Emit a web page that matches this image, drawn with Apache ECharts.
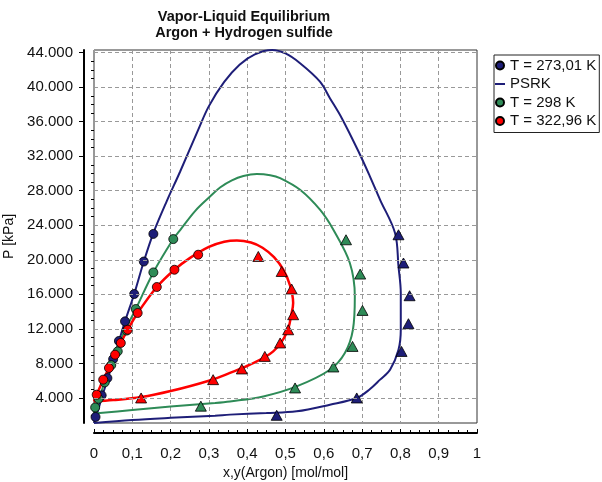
<!DOCTYPE html>
<html>
<head>
<meta charset="utf-8">
<script src="https://cdn.jsdelivr.net/npm/echarts@6/dist/echarts.min.js"></script>
<style>
html, body { margin: 0; padding: 0; background: #fff; }
#chart { width: 602px; height: 482px; }
</style>
</head>
<body>
<div id="chart"></div>
<script>
// [x,y(Argon), P kPa]
const liq273 = [[0.004, 1800], [0.02, 4300], [0.035, 6300], [0.05, 8500], [0.065, 10600], [0.081, 12870], [0.105, 16040], [0.13, 19800], [0.155, 23000]];
const vap273 = [[0.477, 1990], [0.686, 4000], [0.803, 9390], [0.821, 12600], [0.824, 15840], [0.808, 19630], [0.795, 22900]];
const liq298 = [[0.003, 2900], [0.012, 3900], [0.028, 5800], [0.045, 7800], [0.062, 9400], [0.085, 11800], [0.109, 14300], [0.155, 18540], [0.207, 22400]];
const vap298 = [[0.279, 3050], [0.525, 5160], [0.625, 7590], [0.675, 9970], [0.701, 14140], [0.695, 18350], [0.658, 22320]];
const liq323 = [[0.007, 4380], [0.024, 6120], [0.039, 7470], [0.055, 9010], [0.07, 10370], [0.088, 11900], [0.114, 13840], [0.164, 16850], [0.21, 18850], [0.272, 20590]];
const vap323 = [[0.123, 4000], [0.311, 6120], [0.386, 7360], [0.446, 8815], [0.486, 10370], [0.507, 11900], [0.52, 13640], [0.516, 16620], [0.49, 18650], [0.429, 20390]];

// PSRK envelopes
const psrk273 = [[0, 1100], [0.007, 2000], [0.02, 4000], [0.04, 6800], [0.06, 9800], [0.081, 12870], [0.105, 16040], [0.13, 19800],
  [0.155, 23100], [0.19, 26800], [0.225, 30230], [0.272, 35050], [0.3, 37800], [0.34, 40600], [0.38, 42600], [0.42, 43800], [0.465, 44300],
  [0.5, 43900], [0.538, 42770], [0.59, 40640], [0.616, 38720], [0.647, 36400], [0.69, 32600], [0.72, 29700], [0.747, 26950],
  [0.786, 23100], [0.795, 19230], [0.801, 16150], [0.801, 11900], [0.795, 9590], [0.773, 7275], [0.747, 6120], [0.72, 5000],
  [0.686, 4000], [0.616, 3225], [0.529, 2450], [0.45, 2250], [0.355, 2070], [0.316, 1950], [0.2, 1700], [0.1, 1450], [0, 1100]];
const psrk298 = [[0, 2200], [0.007, 3000], [0.025, 5500], [0.05, 8800], [0.075, 11300], [0.109, 14300], [0.155, 18540], [0.207, 22400],
  [0.225, 23450], [0.265, 25700], [0.303, 27330], [0.33, 28400], [0.36, 29200], [0.39, 29700], [0.425, 29930], [0.46, 29800], [0.486, 29460],
  [0.538, 28110], [0.59, 25800], [0.625, 23480], [0.668, 19630], [0.681, 15760], [0.676, 11900], [0.655, 9200], [0.616, 7270],
  [0.529, 5340], [0.442, 4180], [0.355, 3600], [0.316, 3420], [0.2, 3000], [0.1, 2600], [0, 2200]];
const psrk323 = [[0, 3600], [0.007, 4380], [0.024, 6120], [0.039, 7470], [0.055, 9010], [0.07, 10370], [0.088, 11900], [0.114, 13840],
  [0.164, 16850], [0.21, 18850], [0.25, 20200], [0.3, 21500], [0.34, 22100], [0.373, 22250], [0.41, 22000], [0.44, 21400],
  [0.47, 20300], [0.495, 18800], [0.512, 17000], [0.52, 15000], [0.516, 13840], [0.503, 11520], [0.468, 9400], [0.407, 7850],
  [0.355, 6900], [0.3, 6000], [0.2, 4800], [0.123, 4100], [0.05, 3750], [0, 3600]];

const yTicks = [4000, 8000, 12000, 16000, 20000, 24000, 28000, 32000, 36000, 40000, 44000];
const yMinorTicks = [2000, 3000, 5000, 6000, 7000, 9000, 10000, 11000, 13000, 14000, 15000, 17000, 18000, 19000, 21000, 22000, 23000,
  25000, 26000, 27000, 29000, 30000, 31000, 33000, 34000, 35000, 37000, 38000, 39000, 41000, 42000, 43000];
const legendNames = ['T = 273,01 K', 'PSRK', 'T = 298 K', 'T = 322,96 K'];

const NAVY = '#1e1e78', GREEN = '#2e8b57', RED = '#ff0000';
const FONT = '"Liberation Sans", Arial, sans-serif';

const chart = echarts.init(document.getElementById('chart'));

function curve(data, color, width) {
  return {
    name: 'PSRK', type: 'line', data: data, z: 2,
    symbol: 'none', showSymbol: false, smooth: 0.35,
    lineStyle: { color: color, width: width },
    itemStyle: { color: color },
    silent: true
  };
}
function points(name, data, color, symbol, size) {
  return {
    name: name, type: 'scatter', data: data, z: 3,
    symbol: symbol, symbolSize: size,
    itemStyle: { color: color, borderColor: '#000', borderWidth: 0.8, opacity: 1 }
  };
}

chart.setOption({
  animation: false,
  backgroundColor: '#fff',
  title: {
    text: 'Vapor-Liquid Equilibrium\nArgon + Hydrogen sulfide',
    left: 244, top: 9, padding: 0, textAlign: 'center',
    textStyle: { fontFamily: FONT, fontSize: 14.5, fontWeight: 'bold', color: '#111', lineHeight: 16 }
  },
  legend: {
    orient: 'vertical', left: 494, top: 55,
    padding: [3, 3, 4, 1], itemGap: 3.5, itemWidth: 10, itemHeight: 8,
    borderColor: '#222', borderWidth: 1, selectedMode: false,
    textStyle: { fontFamily: FONT, fontSize: 15, color: '#111', lineHeight: 15 },
    data: [
      { name: legendNames[0], icon: 'circle' },
      { name: legendNames[1], icon: 'path://M0,0 M0,3 L10,3 L10,5 L0,5 Z M10,8', itemStyle: { color: NAVY, borderWidth: 0 } },
      { name: legendNames[2], icon: 'circle' },
      { name: legendNames[3], icon: 'circle' }
    ]
  },
  grid: {
    left: 94, top: 50, right: 125, bottom: 59, outerBoundsMode: 'none', containLabel: false,
    show: true, borderColor: '#333', borderWidth: 1
  },
  xAxis: {
    type: 'value', min: 0, max: 1, interval: 0.1, offset: 10,
    name: 'x,y(Argon) [mol/mol]', nameLocation: 'middle', nameGap: 30,
    nameTextStyle: { fontFamily: FONT, fontSize: 14, color: '#111' },
    axisLine: { show: true, onZero: false, lineStyle: { color: '#000', width: 2 } },
    axisTick: { show: true, inside: true, length: 4, lineStyle: { color: '#000' } },
    minorTick: { show: true, splitNumber: 4, length: 3, lineStyle: { color: '#000' } },
    axisLabel: {
      margin: 13, fontFamily: FONT, fontSize: 15, color: '#111',
      formatter: v => String(+v.toFixed(1)).replace('.', ',')
    },
    splitLine: { show: true, lineStyle: { color: '#999', type: [4, 3], width: 1 } }
  },
  yAxis: [{
    type: 'value', min: 1100, max: 44300, position: 'left', offset: 10,
    name: 'P [kPa]', nameLocation: 'middle', nameGap: 63,
    nameTextStyle: { fontFamily: FONT, fontSize: 14, color: '#111' },
    axisLine: { show: true, onZero: false, lineStyle: { color: '#000', width: 2 } },
    axisTick: { show: true, inside: false, length: 5, customValues: yTicks, lineStyle: { color: '#000' } },
    axisLabel: {
      margin: 11, fontFamily: FONT, fontSize: 15, color: '#111', customValues: yTicks,
      formatter: v => String(Math.round(v)).replace(/\B(?=(\d{3})+(?!\d))/g, '.')
    },
    splitLine: { show: false }
  }, {
    type: 'value', min: 1100, max: 44300, position: 'left', offset: 10,
    axisLine: { show: false },
    axisTick: { show: true, inside: false, length: 3, customValues: yMinorTicks, lineStyle: { color: '#000' } },
    axisLabel: { show: false },
    splitLine: { show: false }
  }],
  series: [
    {
      name: 'grid', type: 'line', data: [[0, 1100]], z: 1, symbol: 'none', silent: true,
      lineStyle: { opacity: 0 },
      markLine: {
        silent: true, symbol: ['none', 'none'], animation: false,
        label: { show: false },
        lineStyle: { color: '#999', type: [4, 3], width: 1 },
        emphasis: { disabled: true },
        data: yTicks.map(v => ({ yAxis: v }))
      }
    },
    curve(psrk273, NAVY, 2),
    curve(psrk298, GREEN, 2),
    curve(psrk323, RED, 2.5),
    points(legendNames[0], liq273, NAVY, 'circle', 9),
    points(legendNames[0], vap273, NAVY, 'triangle', [11, 10]),
    points(legendNames[2], liq298, GREEN, 'circle', 9),
    points(legendNames[2], vap298, GREEN, 'triangle', [11, 10]),
    points(legendNames[3], liq323, RED, 'circle', 9),
    points(legendNames[3], vap323, RED, 'triangle', [11, 10])
  ]
});
</script>
</body>
</html>
